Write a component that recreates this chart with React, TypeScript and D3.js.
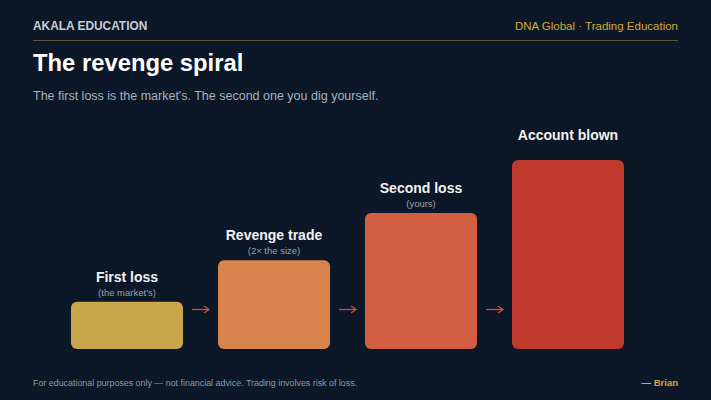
import React, { useEffect, useRef } from "react";
import * as d3 from "d3";

const stages = ["First loss", "Revenge trade", "Second loss", "Account blown"];
const notes = ["(the market's)", "(2× the size)", "(yours)", ""];
const losses = [25, 47, 72, 100];
const colors = ["#c9a54b", "#d9844c", "#d35f43", "#c0392d"];

const W = 711;
const H = 400;
const FONT = "'Liberation Sans', Arial, Helvetica, sans-serif";

const App: React.FC = () => {
  const svgRef = useRef<SVGSVGElement | null>(null);

  useEffect(() => {
    if (!svgRef.current) return;
    const svg = d3.select(svgRef.current);
    svg.selectAll("*").remove();

    svg.append("rect").attr("width", W).attr("height", H).attr("fill", "#0c1727");

    // header
    svg
      .append("text")
      .attr("x", 33)
      .attr("y", 30)
      .attr("fill", "#c9ced6")
      .attr("font-size", 11.9)
      .attr("font-weight", 700)
      .text("AKALA EDUCATION");
    svg
      .append("text")
      .attr("x", 678)
      .attr("y", 30)
      .attr("text-anchor", "end")
      .attr("fill", "#d4a93b")
      .attr("font-size", 11.5)
      .text("DNA Global  ·  Trading Education");
    svg
      .append("line")
      .attr("x1", 33)
      .attr("x2", 678)
      .attr("y1", 40.5)
      .attr("y2", 40.5)
      .attr("stroke", "#5c5334")
      .attr("stroke-width", 1);

    svg
      .append("text")
      .attr("x", 33)
      .attr("y", 71)
      .attr("fill", "#ffffff")
      .attr("font-size", 23.8)
      .attr("font-weight", 700)
      .text("The revenge spiral");
    svg
      .append("text")
      .attr("x", 33)
      .attr("y", 100)
      .attr("fill", "#a7b1bf")
      .attr("font-size", 12.5)
      .text("The first loss is the market's. The second one you dig yourself.");

    // chart
    const x = d3.scaleBand<string>().domain(stages).range([71, 624]).paddingInner(35 / 147).paddingOuter(0);
    const y = d3.scaleLinear().domain([0, 100]).range([349, 160]);

    const g = svg.selectAll(".stage").data(stages).enter().append("g").attr("class", "stage");

    g.append("rect")
      .attr("x", (d) => x(d)!)
      .attr("y", (d, i) => y(losses[i]))
      .attr("width", x.bandwidth())
      .attr("height", (d, i) => y(0) - y(losses[i]))
      .attr("rx", 6)
      .attr("fill", (d, i) => colors[i]);

    g.append("text")
      .attr("x", (d) => x(d)! + x.bandwidth() / 2)
      .attr("y", (d, i) => y(losses[i]) - 20)
      .attr("text-anchor", "middle")
      .attr("fill", "#f2f2f2")
      .attr("font-size", 14)
      .attr("font-weight", 700)
      .text((d) => d);

    g.append("text")
      .attr("x", (d) => x(d)! + x.bandwidth() / 2)
      .attr("y", (d, i) => y(losses[i]) - 6)
      .attr("text-anchor", "middle")
      .attr("fill", "#98a2b0")
      .attr("font-size", 9.5)
      .text((d, i) => notes[i]);

    // arrows between stages
    const gaps = stages.slice(0, -1);
    const ay = 309.5;
    const arrows = svg.selectAll(".arrow").data(gaps).enter().append("g").attr("class", "arrow");
    arrows
      .append("line")
      .attr("x1", (d) => x(d)! + x.bandwidth() + 9)
      .attr("x2", (d) => x(d)! + x.bandwidth() + 25)
      .attr("y1", ay)
      .attr("y2", ay)
      .attr("stroke", "#c9503b")
      .attr("stroke-width", 1.3);
    arrows
      .append("path")
      .attr("d", (d) => {
        const tip = x(d)! + x.bandwidth() + 26;
        return `M${tip - 5},${ay - 3.5} L${tip},${ay} L${tip - 5},${ay + 3.5}`;
      })
      .attr("fill", "none")
      .attr("stroke", "#c9503b")
      .attr("stroke-width", 1.3);

    // footer
    svg
      .append("text")
      .attr("x", 33)
      .attr("y", 386)
      .attr("fill", "#8f99a6")
      .attr("font-size", 8.9)
      .text("For educational purposes only — not financial advice. Trading involves risk of loss.");
    svg
      .append("text")
      .attr("x", 678)
      .attr("y", 386)
      .attr("text-anchor", "end")
      .attr("fill", "#d4a93b")
      .attr("font-size", 9.5)
      .attr("font-weight", 700)
      .text("— Brian");
  }, []);

  return (
    <svg
      ref={svgRef}
      width={W}
      height={H}
      style={{ position: "absolute", left: 0, top: 0, fontFamily: FONT }}
    ></svg>
  );
};

export default App;
